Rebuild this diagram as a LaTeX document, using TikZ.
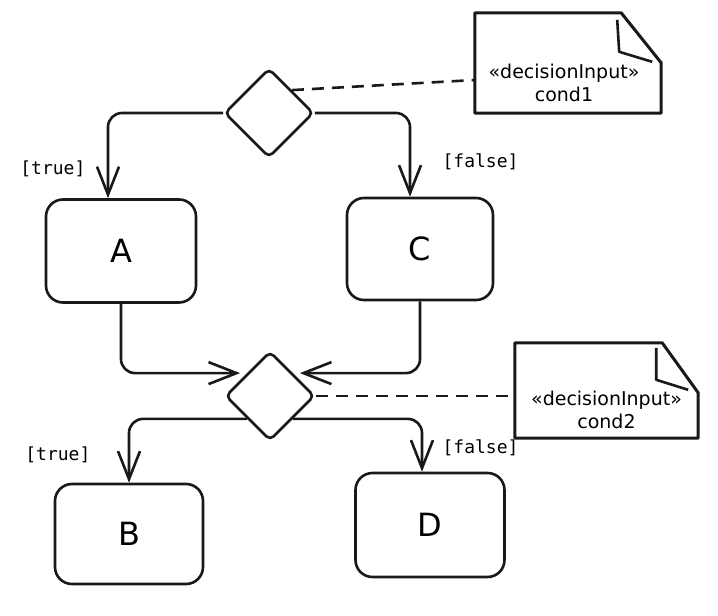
\documentclass[tikz,border=0pt]{standalone}
\usepackage{fontspec}
\setmainfont{DejaVu Sans}
\newfontfamily\guardfont{DejaVu Sans Mono}
\usetikzlibrary{arrows.meta,shapes.geometric}

\begin{document}
\begin{tikzpicture}[
  x=1pt,
  y=-1pt,
  decision/.style={draw=black!90, line width=2.6pt, diamond, aspect=1, inner sep=0pt, minimum size=89pt, rounded corners=5pt},
  actionbox/.style={draw=black!90, line width=2.6pt, rectangle, rounded corners=17pt, font=\fontsize{32}{38}\selectfont},
  noteframe/.style={draw=black!90, line width=3pt, line join=round},
  notefold/.style={draw=black!90, line width=2.6pt, line join=round},
  notetext/.style={align=center, font=\fontsize{19}{23}\selectfont},
  flow/.style={draw=black!90, line width=2.6pt, rounded corners=14pt, -{Straight Barb[length=28pt,width=22pt]}},
  inputline/.style={draw=black!90, line width=2.6pt, dash pattern=on 12pt off 8pt},
  guard/.style={font=\guardfont\fontsize{18}{21}\selectfont}
]
  \useasboundingbox (0,0) rectangle (718,616);

  \node[decision] (dec1) at (269,113) {};
  \node[decision] (dec2) at (270,396) {};
  \node[actionbox, minimum width=150pt, minimum height=103pt] (boxA) at (121,251) {A};
  \node[actionbox, minimum width=146pt, minimum height=102pt] (boxC) at (420,249) {C};
  \node[actionbox, minimum width=148pt, minimum height=100pt] (boxB) at (129,534) {B};
  \node[actionbox, minimum width=149pt, minimum height=104pt] (boxD) at (430,525) {D};

  % notes with folded corner
  \node[minimum width=186pt, minimum height=100pt, inner sep=0pt] (note1) at (568,63) {};
  \draw[noteframe] (note1.north west) -- ([xshift=-40pt]note1.north east) -- ([yshift=-50pt]note1.north east)
    -- (note1.south east) -- (note1.south west) -- cycle;
  \draw[notefold] ([xshift=-44pt,yshift=-7pt]note1.north east) -- ([xshift=-42pt,yshift=-39pt]note1.north east)
    -- ([xshift=-9pt,yshift=-49pt]note1.north east);
  \node[notetext] (note1txt) at ([xshift=-4pt,yshift=-20pt]note1.center) {«decisionInput»\\cond1};

  \node[minimum width=183pt, minimum height=95pt, inner sep=0pt] (note2) at (606.5,390.5) {};
  \draw[noteframe] (note2.north west) -- ([xshift=-36pt]note2.north east) -- ([yshift=-50pt]note2.north east)
    -- (note2.south east) -- (note2.south west) -- cycle;
  \draw[notefold] ([xshift=-42pt,yshift=-5pt]note2.north east) -- ([xshift=-42pt,yshift=-37pt]note2.north east)
    -- ([xshift=-10pt,yshift=-47pt]note2.north east);
  \node[notetext] (note2txt) at ([yshift=-19pt]note2.center) {«decisionInput»\\cond2};

  \draw[flow] (dec1.west) -| node[guard, pos=0.83, left=18pt] {[true]} ([xshift=-13pt]boxA.north);
  \draw[flow] (dec1.east) -| node[guard, pos=0.79, right=28pt] {[false]} ([xshift=-10pt]boxC.north);
  \draw[flow, shorten >=7pt] (boxA.south) |- (dec2.north west);
  \draw[flow, shorten >=7pt] (boxC.south) |- (dec2.north east);
  \draw[flow] (dec2.south west) -| node[guard, pos=0.78, left=34pt] {[true]} (boxB.north);
  \draw[flow] (dec2.south east) -| node[guard, pos=0.77, right=16pt] {[false]} ([xshift=-8pt]boxD.north);

  \draw[inputline] (dec1.north east) -- ([yshift=-17pt]note1.west);
  \draw[inputline] (dec2.east) -- (dec2.east -| note2.west);
\end{tikzpicture}
\end{document}
